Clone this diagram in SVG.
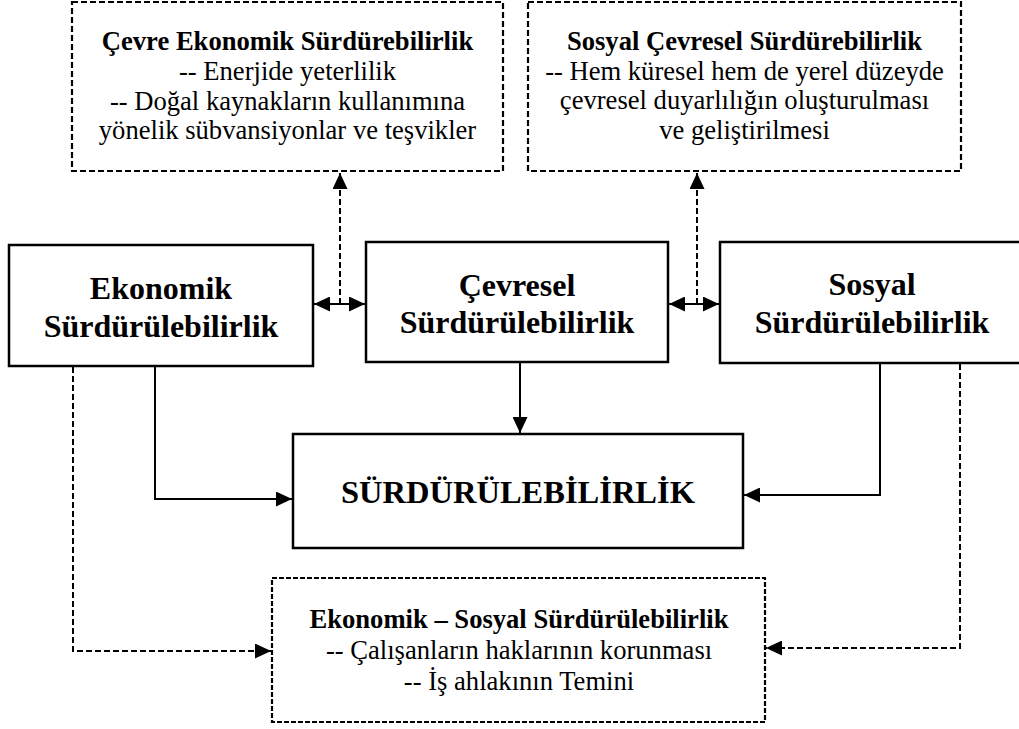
<svg xmlns="http://www.w3.org/2000/svg" width="1019" height="729" viewBox="0 0 1019 729">
<style>
text{font-family:"Liberation Serif","Times New Roman",serif;fill:#000;text-anchor:middle}
.s{font-size:26.6px}
.b{font-weight:bold}
.m{font-size:32px;font-weight:bold}
.big{font-size:32.5px;font-weight:bold}
.box{fill:#fff;stroke:#000;stroke-width:2.5}
.dbox{fill:#fff;stroke:#000;stroke-width:2.2;stroke-dasharray:6,3}
.dbox2{fill:#fff;stroke:#000;stroke-width:2.2;stroke-dasharray:5,2}
.c{fill:none;stroke:#000;stroke-width:2}
.dc{fill:none;stroke:#000;stroke-width:2;stroke-dasharray:6,3}
</style>
<defs>
<marker id="ah" markerUnits="userSpaceOnUse" markerWidth="17" markerHeight="15" refX="16" refY="7.5" orient="auto-start-reverse" viewBox="0 0 17 15">
<path d="M0,0 L16,7.5 L0,15 Z" fill="#000"/>
</marker>
</defs>
<rect width="1019" height="729" fill="#fff"/>
<g id="connectors">
<line class="c" x1="314" y1="304" x2="365" y2="304" marker-start="url(#ah)" marker-end="url(#ah)"/>
<line class="c" x1="669" y1="304" x2="719" y2="304" marker-start="url(#ah)" marker-end="url(#ah)"/>
<path class="dc" d="M340,304 V173" marker-end="url(#ah)"/>
<path class="dc" d="M697,304 V173" marker-end="url(#ah)"/>
<path class="c" d="M155,367 V499 H292" marker-end="url(#ah)"/>
<path class="c" d="M520,363 V433" marker-end="url(#ah)"/>
<path class="c" d="M880,364 V495 H744" marker-end="url(#ah)"/>
<path class="dc" d="M73,367 V651 H271" marker-end="url(#ah)"/>
<path class="dc" d="M960,364 V648 H766" marker-end="url(#ah)"/>
</g>
<g id="cevre-ekonomik">
<rect class="dbox" x="72" y="2" width="431" height="169"/>
<text class="s b" x="287.5" y="50">Çevre Ekonomik Sürdürebilirlik</text>
<text class="s" x="287.5" y="80">-- Enerjide yeterlilik</text>
<text class="s" x="287.5" y="110">-- Doğal kaynakların kullanımına</text>
<text class="s" x="287.5" y="139">yönelik sübvansiyonlar ve teşvikler</text>
</g>
<g id="sosyal-cevresel">
<rect class="dbox" x="528" y="2" width="433" height="169"/>
<text class="s b" x="744.5" y="50">Sosyal Çevresel Sürdürebilirlik</text>
<text class="s" x="744.5" y="80">-- Hem küresel hem de yerel düzeyde</text>
<text class="s" x="744.5" y="109">çevresel duyarlılığın oluşturulması</text>
<text class="s" x="744.5" y="139">ve geliştirilmesi</text>
</g>
<g id="ekonomik">
<rect class="box" x="9" y="245" width="304" height="121"/>
<text class="m" x="161" y="299">Ekonomik</text>
<text class="m" x="161" y="337">Sürdürülebilirlik</text>
</g>
<g id="cevresel">
<rect class="box" x="366" y="242" width="302" height="120"/>
<text class="m" x="517" y="296">Çevresel</text>
<text class="m" x="517" y="333">Sürdürülebilirlik</text>
</g>
<g id="sosyal">
<rect class="box" x="720" y="242" width="312" height="121"/>
<text class="m" x="872" y="295">Sosyal</text>
<text class="m" x="872" y="333">Sürdürülebilirlik</text>
</g>
<g id="surdurulebilirlik">
<rect class="box" x="293" y="434" width="450" height="114"/>
<text class="big" x="518" y="503">SÜRDÜRÜLEBİLİRLİK</text>
</g>
<g id="ekonomik-sosyal">
<rect class="dbox2" x="272" y="578" width="493" height="144"/>
<text class="s b" x="519" y="628">Ekonomik – Sosyal Sürdürülebilirlik</text>
<text class="s" x="519" y="659">-- Çalışanların haklarının korunması</text>
<text class="s" x="519" y="690">-- İş ahlakının Temini</text>
</g>
</svg>
